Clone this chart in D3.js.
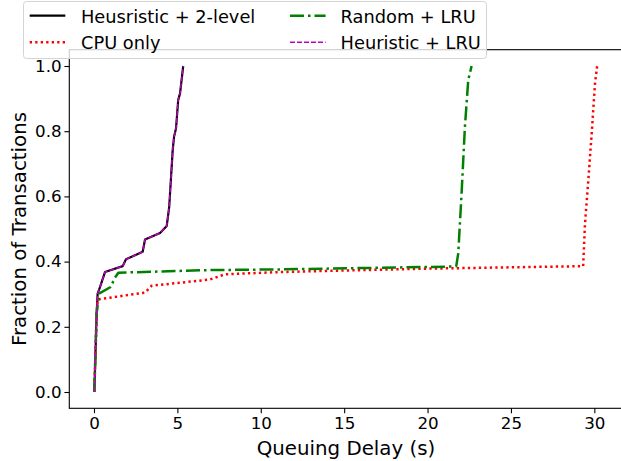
<!DOCTYPE html>
<html>
<head>
<meta charset="utf-8">
<script src="https://cdn.jsdelivr.net/npm/d3@7"></script>
<style>
  html, body { margin: 0; padding: 0; background: #fff; }
  svg { display: block; font-family: "DejaVu Sans", sans-serif; }
</style>
</head>
<body>
<svg id="chart" width="621" height="461"></svg>
<script>
// CDF of queuing delay per scheduling policy: [delay (s), fraction of transactions]
const heuristic2Level = [
  [0.02, 0.0], [0.16, 0.241], [0.22, 0.302], [0.36, 0.322], [0.66, 0.368],
  [1.72, 0.386], [1.92, 0.407], [2.92, 0.430], [3.06, 0.468], [3.96, 0.488],
  [4.36, 0.509], [4.51, 0.568], [4.72, 0.742], [4.80, 0.783], [4.92, 0.809],
  [5.05, 0.896], [5.16, 0.916], [5.35, 1.0]
];
const cpuOnly = [
  [0.02, 0.0], [0.16, 0.241], [0.22, 0.284], [0.36, 0.285], [3.06, 0.305],
  [3.46, 0.326], [6.95, 0.345], [7.85, 0.361], [11.15, 0.368], [19.54, 0.378],
  [29.33, 0.386], [29.44, 0.517], [29.64, 0.650], [29.84, 0.793], [30.04, 0.947],
  [30.17, 1.0]
];
const randomLRU = [
  [0.02, 0.0], [0.16, 0.241], [0.30, 0.302], [1.0, 0.322], [1.26, 0.351],
  [1.46, 0.366], [6.95, 0.374], [11.15, 0.376], [21.64, 0.385], [21.72, 0.386],
  [21.84, 0.425], [22.04, 0.609], [22.24, 0.814], [22.44, 0.957], [22.64, 1.0]
];
const heuristicLRU = heuristic2Level.map(d => [d[0], d[1]]);

const seriesNames = ["Heusristic + 2-level", "CPU only", "Random + LRU", "Heuristic + LRU"];
const xTicks = [0, 5, 10, 15, 20, 25, 30];
const yTicks = [0.0, 0.2, 0.4, 0.6, 0.8, 1.0];

const styles = [
  { data: heuristic2Level, color: "#000000", width: 2.2, dash: null },
  { data: cpuOnly,         color: "#ff0000", width: 2.5, dash: "2.3,3.2" },
  { data: randomLRU,       color: "#008000", width: 2.5, dash: "14,4,2.5,4" },
  { data: heuristicLRU,    color: "#bf00bf", width: 1.5, dash: "5,2" }
];

const svg = d3.select("#chart");
svg.append("rect").attr("width", 621).attr("height", 461).attr("fill", "#fff");

const plot = { left: 69.3, right: 627.7, top: 49.7, bottom: 408.3 };
const x = d3.scaleLinear().domain([-1.48, 32]).range([plot.left, plot.right]);
const y = d3.scaleLinear().domain([-0.05, 1.05]).range([plot.bottom, plot.top]);

// axes
const xAxis = d3.axisBottom(x).tickValues(xTicks).tickFormat(d3.format("d"))
  .tickSize(4.9).tickSizeOuter(0).tickPadding(3.5);
const yAxis = d3.axisLeft(y).tickValues(yTicks).tickFormat(d3.format(".1f"))
  .tickSize(4.9).tickSizeOuter(0).tickPadding(2.8);

const gx = svg.append("g").attr("transform", `translate(0,${plot.bottom})`).call(xAxis);
const gy = svg.append("g").attr("transform", `translate(${plot.left},0)`).call(yAxis);
[gx, gy].forEach(g => {
  g.select(".domain").remove();
  g.selectAll(".tick line").attr("stroke", "#000").attr("stroke-width", 1.1);
  g.selectAll(".tick text").attr("fill", "#000").style("font-size", "16.7px")
    .style("font-family", "DejaVu Sans");
});

// spines
svg.append("rect")
  .attr("x", plot.left).attr("y", plot.top)
  .attr("width", plot.right - plot.left).attr("height", plot.bottom - plot.top)
  .attr("fill", "none").attr("stroke", "#000").attr("stroke-width", 1.1);

// curves
const line = d3.line().x(d => x(d[0])).y(d => y(d[1]));
svg.append("clipPath").attr("id", "plotclip").append("rect")
  .attr("x", plot.left).attr("y", plot.top)
  .attr("width", plot.right - plot.left).attr("height", plot.bottom - plot.top);
const curves = svg.append("g").attr("clip-path", "url(#plotclip)");
styles.forEach(s => {
  curves.append("path")
    .datum(s.data)
    .attr("d", line)
    .attr("fill", "none")
    .attr("stroke", s.color)
    .attr("stroke-width", s.width)
    .attr("stroke-dasharray", s.dash)
    .attr("stroke-linejoin", "round");
});

// axis labels
svg.append("text")
  .attr("x", 346).attr("y", 454.5)
  .attr("text-anchor", "middle")
  .style("font-size", "19.8px")
  .text("Queuing Delay (s)");
svg.append("text")
  .attr("transform", `translate(26,${(plot.top + plot.bottom) / 2}) rotate(-90)`)
  .attr("text-anchor", "middle")
  .style("font-size", "19.8px")
  .text("Fraction of Transactions");

// legend (two columns, column-major order)
const legend = svg.append("g");
legend.append("rect")
  .attr("x", 23.5).attr("y", 1.5).attr("width", 463).attr("height", 57)
  .attr("rx", 3).attr("fill", "#fff").attr("fill-opacity", 0.8)
  .attr("stroke", "#d4d4d4").attr("stroke-width", 1);
const cols = [{ lx: 29.7, tx: 81 }, { lx: 290, tx: 340.6 }];
const rows = [{ ly: 15.7, ty: 22.7 }, { ly: 42.3, ty: 48.6 }];
seriesNames.forEach((name, i) => {
  const c = cols[Math.floor(i / 2)], r = rows[i % 2], s = styles[i];
  legend.append("line")
    .attr("x1", c.lx).attr("x2", c.lx + 35.6)
    .attr("y1", r.ly).attr("y2", r.ly)
    .attr("stroke", s.color).attr("stroke-width", s.width)
    .attr("stroke-dasharray", s.dash);
  legend.append("text")
    .attr("x", c.tx).attr("y", r.ty)
    .style("font-size", "17.8px")
    .text(name);
});
</script>
</body>
</html>
